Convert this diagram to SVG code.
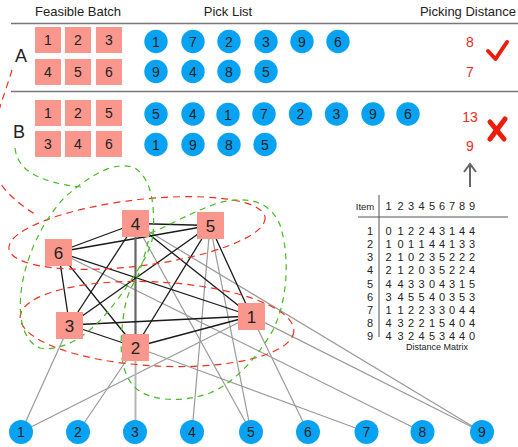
<svg xmlns="http://www.w3.org/2000/svg" width="518" height="447" viewBox="0 0 518 447">
<style>
text{font-family:"Liberation Sans",Arial,sans-serif;fill:#222}
.hdr{font-size:13px}
.lbl{font-size:18px;text-anchor:middle}
.sq{fill:#fa978c}
.ci{fill:#07a3f2}
.n{font-size:14px;text-anchor:middle}
.gn{font-size:17px;text-anchor:middle}
.red{fill:#ee2a1a;font-size:14px;text-anchor:middle}
.mt{font-size:11px;text-anchor:middle;fill:#333}
.edge{stroke:#1a1a1a;stroke-width:1.3}
.gray{stroke:#9a9a9a;stroke-width:1.2}
.rd{fill:none;stroke:#f0301e;stroke-width:1.2;stroke-dasharray:7 5}
.gd{fill:none;stroke:#44bb22;stroke-width:1.2;stroke-dasharray:6 5}
</style>
<!-- header -->
<text class="hdr" x="78" y="16" text-anchor="middle">Feasible Batch</text>
<text class="hdr" x="228" y="16" text-anchor="middle">Pick List</text>
<text class="hdr" x="468" y="16" text-anchor="middle">Picking Distance</text>
<line x1="11" y1="23.5" x2="518" y2="23.5" stroke="#777" stroke-width="1.5"/>
<line x1="11" y1="91.5" x2="518" y2="91.5" stroke="#777" stroke-width="1.5"/>
<!-- batch A -->
<g id="batchA">
<text class="lbl" x="21" y="62">A</text>
<rect class="sq" x="35" y="27" width="26" height="26"/><text class="n" x="48" y="45">1</text>
<rect class="sq" x="65" y="27" width="26" height="26"/><text class="n" x="78" y="45">2</text>
<rect class="sq" x="96" y="27" width="26" height="26"/><text class="n" x="109" y="45">3</text>
<rect class="sq" x="35" y="59" width="26" height="26"/><text class="n" x="48" y="77">4</text>
<rect class="sq" x="65" y="59" width="26" height="26"/><text class="n" x="78" y="77">5</text>
<rect class="sq" x="96" y="59" width="26" height="26"/><text class="n" x="109" y="77">6</text>
<circle class="ci" cx="156" cy="41.5" r="11.7"/><text class="n" x="156" y="46.5">1</text>
<circle class="ci" cx="193" cy="41.5" r="11.7"/><text class="n" x="193" y="46.5">7</text>
<circle class="ci" cx="229" cy="41.5" r="11.7"/><text class="n" x="229" y="46.5">2</text>
<circle class="ci" cx="266" cy="41.5" r="11.7"/><text class="n" x="266" y="46.5">3</text>
<circle class="ci" cx="302" cy="41.5" r="11.7"/><text class="n" x="302" y="46.5">9</text>
<circle class="ci" cx="338" cy="41.5" r="11.7"/><text class="n" x="338" y="46.5">6</text>
<circle class="ci" cx="156" cy="71.5" r="11.7"/><text class="n" x="156" y="76.5">9</text>
<circle class="ci" cx="193" cy="71.5" r="11.7"/><text class="n" x="193" y="76.5">4</text>
<circle class="ci" cx="229" cy="71.5" r="11.7"/><text class="n" x="229" y="76.5">8</text>
<circle class="ci" cx="266" cy="71.5" r="11.7"/><text class="n" x="266" y="76.5">5</text>
<text class="red" x="470" y="47">8</text>
<text class="red" x="470" y="77">7</text>
<path d="M488,51 L495.5,59 L507,42" fill="none" stroke="#ee1c0c" stroke-width="4" stroke-linecap="round" stroke-linejoin="round"/>
</g>
<!-- batch B -->
<g id="batchB">
<text class="lbl" x="19" y="138">B</text>
<rect class="sq" x="35" y="100" width="26" height="26"/><text class="n" x="48" y="118">1</text>
<rect class="sq" x="65" y="100" width="26" height="26"/><text class="n" x="78" y="118">2</text>
<rect class="sq" x="96" y="100" width="26" height="26"/><text class="n" x="109" y="118">5</text>
<rect class="sq" x="35" y="131" width="26" height="26"/><text class="n" x="48" y="149">3</text>
<rect class="sq" x="65" y="131" width="26" height="26"/><text class="n" x="78" y="149">4</text>
<rect class="sq" x="96" y="131" width="26" height="26"/><text class="n" x="109" y="149">6</text>
<circle class="ci" cx="156" cy="114" r="11.7"/><text class="n" x="156" y="119">5</text>
<circle class="ci" cx="193" cy="114" r="11.7"/><text class="n" x="193" y="119">4</text>
<circle class="ci" cx="228" cy="114.5" r="11.7"/><text class="n" x="228" y="119.5">1</text>
<circle class="ci" cx="264" cy="114" r="11.7"/><text class="n" x="264" y="119">7</text>
<circle class="ci" cx="300.5" cy="114" r="11.7"/><text class="n" x="300.5" y="119">2</text>
<circle class="ci" cx="336.5" cy="114" r="11.7"/><text class="n" x="336.5" y="119">3</text>
<circle class="ci" cx="373" cy="114" r="11.7"/><text class="n" x="373" y="119">9</text>
<circle class="ci" cx="408" cy="114" r="11.7"/><text class="n" x="408" y="119">6</text>
<circle class="ci" cx="156" cy="144.5" r="11.7"/><text class="n" x="156" y="149.5">1</text>
<circle class="ci" cx="193" cy="144.5" r="11.7"/><text class="n" x="193" y="149.5">9</text>
<circle class="ci" cx="229" cy="144.5" r="11.7"/><text class="n" x="229" y="149.5">8</text>
<circle class="ci" cx="265" cy="144.5" r="11.7"/><text class="n" x="265" y="149.5">5</text>
<text class="red" x="470" y="122">13</text>
<text class="red" x="470" y="151">9</text>
<g stroke="#ee1c0c" stroke-width="5" stroke-linecap="round">
<line x1="490" y1="122" x2="504" y2="139"/>
<line x1="505" y1="119" x2="490" y2="139"/>
</g>
<g stroke="#666" stroke-width="2" fill="none">
<line x1="470" y1="187" x2="470" y2="164"/>
<path d="M464,172 L470,164 L476,172"/>
</g>
</g>
<!-- distance matrix -->
<g id="matrix">
<line x1="379" y1="195" x2="379" y2="337" stroke="#555" stroke-width="1"/>
<line x1="358" y1="217" x2="508" y2="217" stroke="#555" stroke-width="1"/>
<text x="365" y="210" font-size="9.5" text-anchor="middle" fill="#333">Item</text>
<g class="mt">
<text x="388.5" y="210">1</text><text x="400.5" y="210">2</text><text x="411" y="210">3</text><text x="421.5" y="210">4</text><text x="432" y="210">5</text><text x="442" y="210">6</text><text x="452" y="210">7</text><text x="462" y="210">8</text><text x="472" y="210">9</text>
</g>
<g class="mt">
<text x="370" y="235">1</text><text x="370" y="248">2</text><text x="370" y="261">3</text><text x="370" y="274">4</text><text x="370" y="287.5">5</text><text x="370" y="300.5">6</text><text x="370" y="313.5">7</text><text x="370" y="326.5">8</text><text x="370" y="340">9</text>
</g>
<g class="mt">
<text y="235"><tspan x="388.5">0</tspan><tspan x="400.5">1</tspan><tspan x="411">2</tspan><tspan x="421.5">2</tspan><tspan x="432">4</tspan><tspan x="442">3</tspan><tspan x="452">1</tspan><tspan x="462">4</tspan><tspan x="472">4</tspan></text>
<text y="248"><tspan x="388.5">1</tspan><tspan x="400.5">0</tspan><tspan x="411">1</tspan><tspan x="421.5">1</tspan><tspan x="432">4</tspan><tspan x="442">4</tspan><tspan x="452">1</tspan><tspan x="462">3</tspan><tspan x="472">3</tspan></text>
<text y="261"><tspan x="388.5">2</tspan><tspan x="400.5">1</tspan><tspan x="411">0</tspan><tspan x="421.5">2</tspan><tspan x="432">3</tspan><tspan x="442">5</tspan><tspan x="452">2</tspan><tspan x="462">2</tspan><tspan x="472">2</tspan></text>
<text y="274"><tspan x="388.5">2</tspan><tspan x="400.5">1</tspan><tspan x="411">2</tspan><tspan x="421.5">0</tspan><tspan x="432">3</tspan><tspan x="442">5</tspan><tspan x="452">2</tspan><tspan x="462">2</tspan><tspan x="472">4</tspan></text>
<text y="287.5"><tspan x="388.5">4</tspan><tspan x="400.5">4</tspan><tspan x="411">3</tspan><tspan x="421.5">3</tspan><tspan x="432">0</tspan><tspan x="442">4</tspan><tspan x="452">3</tspan><tspan x="462">1</tspan><tspan x="472">5</tspan></text>
<text y="300.5"><tspan x="388.5">3</tspan><tspan x="400.5">4</tspan><tspan x="411">5</tspan><tspan x="421.5">5</tspan><tspan x="432">4</tspan><tspan x="442">0</tspan><tspan x="452">3</tspan><tspan x="462">5</tspan><tspan x="472">3</tspan></text>
<text y="313.5"><tspan x="388.5">1</tspan><tspan x="400.5">1</tspan><tspan x="411">2</tspan><tspan x="421.5">2</tspan><tspan x="432">3</tspan><tspan x="442">3</tspan><tspan x="452">0</tspan><tspan x="462">4</tspan><tspan x="472">4</tspan></text>
<text y="326.5"><tspan x="388.5">4</tspan><tspan x="400.5">3</tspan><tspan x="411">2</tspan><tspan x="421.5">2</tspan><tspan x="432">1</tspan><tspan x="442">5</tspan><tspan x="452">4</tspan><tspan x="462">0</tspan><tspan x="472">4</tspan></text>
<text y="340"><tspan x="388.5">4</tspan><tspan x="400.5">3</tspan><tspan x="411">2</tspan><tspan x="421.5">4</tspan><tspan x="432">5</tspan><tspan x="442">3</tspan><tspan x="452">4</tspan><tspan x="462">4</tspan><tspan x="472">0</tspan></text>
</g>
<text x="437" y="350" font-size="9" text-anchor="middle" fill="#333">Distance Matrix</text>
</g>
<!-- connectors -->
<g id="connectors">
<g class="gray">
<line x1="69.5" y1="325" x2="21" y2="432"/>
<line x1="251.5" y1="316" x2="21" y2="432"/>
<line x1="135.5" y1="347" x2="78" y2="432"/>
<line x1="135.5" y1="347" x2="135.5" y2="432" stroke="#b5b5b5" stroke-width="2"/>
<line x1="210" y1="225.5" x2="192" y2="432"/>
<line x1="135.5" y1="223.5" x2="251" y2="432"/>
<line x1="210" y1="225.5" x2="251" y2="432"/>
<line x1="251.5" y1="316" x2="308" y2="432"/>
<line x1="135.5" y1="347" x2="366.5" y2="432"/>
<line x1="58.5" y1="252" x2="422.5" y2="432"/>
<line x1="135.5" y1="223.5" x2="482" y2="432"/>
<line x1="251.5" y1="316" x2="482" y2="432"/>
</g>
<g class="edge">
<line x1="135.5" y1="223.5" x2="210" y2="225.5"/>
<line x1="135.5" y1="223.5" x2="58.5" y2="252"/>
<line x1="210" y1="225.5" x2="58.5" y2="252"/>
<line x1="135.5" y1="223.5" x2="69.5" y2="325"/>
<line x1="135.5" y1="223.5" x2="135.5" y2="347" stroke="#666" stroke-width="2.2"/>
<line x1="135.5" y1="223.5" x2="251.5" y2="316"/>
<line x1="210" y1="225.5" x2="69.5" y2="325"/>
<line x1="210" y1="225.5" x2="135.5" y2="347"/>
<line x1="210" y1="225.5" x2="251.5" y2="316"/>
<line x1="58.5" y1="252" x2="69.5" y2="325"/>
<line x1="58.5" y1="252" x2="135.5" y2="347"/>
<line x1="58.5" y1="252" x2="251.5" y2="316"/>
<line x1="69.5" y1="325" x2="251.5" y2="316"/>
<line x1="69.5" y1="325" x2="135.5" y2="347"/>
<line x1="135.5" y1="347" x2="251.5" y2="316"/>
</g>
<ellipse class="rd" cx="137" cy="233" rx="129" ry="33" transform="rotate(-7 137 233)"/>
<ellipse class="rd" cx="157" cy="324" rx="137" ry="42" transform="rotate(3 157 324)"/>
<path class="rd" d="M12,70 C0,110 -20,150 0,183 C10,197 22,206 38,216"/>
<path class="gd" d="M150,233 C165,228 185,215 215,204 C245,195 270,200 280,225 C290,255 288,300 273,330 C255,362 230,385 210,393 C185,402 155,402 138,390 C118,375 120,340 123,320 C125,300 130,288 137,278 C142,265 147,248 150,233 Z"/>
<path class="gd" d="M153,235 C155,210 153,180 135,168 C115,160 90,175 65,197 C45,218 28,250 22,285 C18,310 20,340 40,348 C60,352 85,338 105,315 C120,298 135,275 145,258 C150,248 152,242 153,235 Z"/>
<path class="gd" d="M15,148 C17,168 35,182 81,187"/>
</g>
<!-- graph nodes -->
<g id="order4"><rect class="sq" x="122" y="210" width="27" height="27"/><text class="gn" x="135.5" y="229.5">4</text></g>
<g id="order5"><rect class="sq" x="197" y="212" width="27" height="27"/><text class="gn" x="210.5" y="231.5">5</text></g>
<g id="order6"><rect class="sq" x="45" y="239" width="27" height="27"/><text class="gn" x="58.5" y="258.5">6</text></g>
<g id="order3"><rect class="sq" x="56" y="312" width="27" height="27"/><text class="gn" x="69.5" y="331.5">3</text></g>
<g id="order2"><rect class="sq" x="122" y="334" width="27" height="27"/><text class="gn" x="135.5" y="353.5">2</text></g>
<g id="order1"><rect class="sq" x="238" y="303" width="27" height="27"/><text class="gn" x="251.5" y="322.5">1</text></g>
<!-- item nodes -->
<g id="item1"><circle class="ci" cx="21" cy="432" r="12"/><text class="n" x="21" y="437">1</text></g>
<g id="item2"><circle class="ci" cx="78" cy="432" r="12"/><text class="n" x="78" y="437">2</text></g>
<g id="item3"><circle class="ci" cx="135" cy="432" r="12"/><text class="n" x="135" y="437">3</text></g>
<g id="item4"><circle class="ci" cx="192" cy="432" r="12"/><text class="n" x="192" y="437">4</text></g>
<g id="item5"><circle class="ci" cx="251" cy="432" r="12"/><text class="n" x="251" y="437">5</text></g>
<g id="item6"><circle class="ci" cx="308" cy="432" r="12"/><text class="n" x="308" y="437">6</text></g>
<g id="item7"><circle class="ci" cx="366.5" cy="432" r="12"/><text class="n" x="366.5" y="437">7</text></g>
<g id="item8"><circle class="ci" cx="422.5" cy="432" r="12"/><text class="n" x="422.5" y="437">8</text></g>
<g id="item9"><circle class="ci" cx="482" cy="432" r="12"/><text class="n" x="482" y="437">9</text></g>
</svg>
